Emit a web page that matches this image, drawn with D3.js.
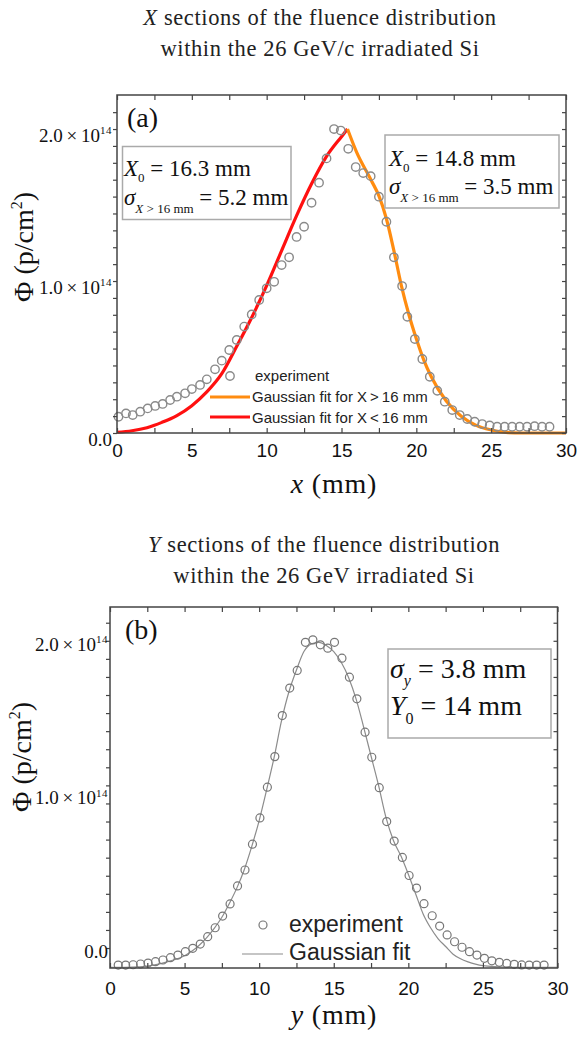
<!DOCTYPE html>
<html>
<head>
<meta charset="utf-8">
<script src="https://cdn.jsdelivr.net/npm/d3@7"></script>
<style>
  body { margin: 0; background: #fff; }
  svg { display: block; }
</style>
</head>
<body>
<svg id="chart" width="578" height="1039"></svg>
<script>
// all fluence values in units of 1e14 p/cm2, positions in mm

// panel (a) - X sections
var xaPoints = [0.1, 0.6, 1.05, 1.55, 2.05, 2.55, 3.05, 3.55, 4.0, 4.55, 5.0, 5.55, 6.0, 6.55, 7.0, 7.5, 8.0, 8.5, 9.0, 9.5,
  10.0, 10.5, 11.0, 11.5, 12.0, 12.5, 13.0, 13.5, 14.0, 14.5, 14.95, 15.45, 15.95, 16.45, 16.95, 17.5, 18.0, 18.5, 19.05, 19.4,
  19.9, 20.4, 20.9, 21.4, 21.9, 22.4, 22.9, 23.4, 23.9, 24.4, 24.9, 25.4, 25.9, 26.4, 26.9, 27.4, 27.9, 28.4, 28.9]
var vaPoints = [0.107, 0.129, 0.118, 0.14, 0.162, 0.178, 0.191, 0.217, 0.239, 0.261, 0.289, 0.316, 0.353, 0.419, 0.476, 0.546, 0.612, 0.70, 0.78, 0.875,
  0.952, 0.995, 1.105, 1.156, 1.29, 1.357, 1.515, 1.647, 1.807, 2.0, 1.99, 1.87, 1.75, 1.71, 1.69, 1.555, 1.39, 1.156, 0.967, 0.765,
  0.618, 0.487, 0.37, 0.278, 0.206, 0.151, 0.118, 0.092, 0.074, 0.059, 0.05, 0.041, 0.041, 0.041, 0.041, 0.041, 0.045, 0.041, 0.041]

// gaussian fit for X < 16 mm (red)
var xaRed = [0, 1, 2, 3, 4, 5, 6, 7, 8, 9, 10, 11, 12, 13, 14, 15, 15.4]
var vaRed = [0.005, 0.015, 0.035, 0.07, 0.115, 0.18, 0.27, 0.39, 0.57, 0.76, 0.97, 1.2, 1.43, 1.64, 1.82, 1.95, 2.0]

// gaussian fit for X > 16 mm (orange)
var xaOrange = [15.4, 16, 17, 17.5, 18, 18.5, 19, 19.5, 20, 20.5, 21, 22, 23, 24, 25, 26, 27, 28, 29, 30]
var vaOrange = [2.0, 1.85, 1.66, 1.56, 1.41, 1.2, 0.97, 0.78, 0.62, 0.48, 0.37, 0.21, 0.11, 0.05, 0.02, 0.004, 0, 0, 0, 0]

// panel (b) - Y sections
var xbPoints = [0.55, 1.05, 1.55, 2.05, 2.55, 3.05, 3.55, 4.05, 4.55, 5.05, 5.55, 6.05, 6.55, 7.05, 7.55, 8.05, 8.55, 9.05, 9.55, 10.05,
  10.55, 11.05, 11.55, 12.05, 12.55, 13.1, 13.6, 14.1, 14.6, 15.05, 15.55, 16.05, 16.55, 17.1, 17.55, 18.05, 18.55, 19.05, 19.6, 20.05,
  20.55, 21.05, 21.6, 22.1, 22.6, 23.1, 23.6, 24.1, 24.6, 25.1, 25.6, 26.1, 26.6, 27.1, 27.6, 28.1, 28.6, 29.1]
var vbPoints = [-0.111, -0.111, -0.109, -0.104, -0.098, -0.089, -0.078, -0.063, -0.046, -0.024, -0.002, 0.026, 0.074, 0.132, 0.208, 0.287, 0.404, 0.508, 0.676, 0.847,
  1.047, 1.246, 1.513, 1.692, 1.807, 1.99, 2.006, 1.974, 1.952, 1.99, 1.887, 1.763, 1.622, 1.405, 1.242, 1.044, 0.823, 0.696, 0.59, 0.472,
  0.39, 0.289, 0.21, 0.143, 0.085, 0.041, 0.005, -0.024, -0.046, -0.067, -0.083, -0.093, -0.1, -0.106, -0.11, -0.111, -0.111, -0.111]

var xbFit = [0, 1, 2, 3, 4, 5, 5.5, 6, 6.5, 7, 7.5, 8, 8.5, 9, 9.5, 10, 10.5, 11, 11.5, 12, 12.5, 13, 13.5, 14, 14.5, 15, 15.5, 16, 16.5, 17,
  17.5, 18, 18.5, 19, 19.5, 20, 20.5, 21, 21.5, 22, 22.5, 23, 23.5, 24, 24.5, 25, 26, 27, 28, 29, 30]
var vbFit = [-0.125, -0.125, -0.122, -0.11, -0.085, -0.05, -0.02, 0.02, 0.07, 0.13, 0.2, 0.29, 0.39, 0.51, 0.66, 0.83, 1.03, 1.24, 1.48, 1.67, 1.81, 1.93, 1.98, 1.99, 1.97, 1.93, 1.86, 1.76, 1.62, 1.44,
  1.25, 1.06, 0.85, 0.7, 0.6, 0.48, 0.35, 0.22, 0.13, 0.06, 0.01, -0.04, -0.07, -0.09, -0.105, -0.115, -0.122, -0.125, -0.125, -0.125, -0.125]

// tick labels
var xTickLabels = [0, 5, 10, 15, 20, 25, 30]
var yTickLabels = [0, 1, 2]

var serif = "'Liberation Serif', 'Times New Roman', serif"
var sans = "'Liberation Sans', Arial, sans-serif"
var axisColor = '#444'

var svg = d3.select('#chart')

// scales for the two panels
var xA = d3.scaleLinear().domain([0, 30]).range([117, 566])
var yA = d3.scaleLinear().domain([0, 2.224]).range([433, 95])
var xB = d3.scaleLinear().domain([0, 30]).range([110, 557.5])
var yB = d3.scaleLinear().domain([-0.13, 2.22]).range([968, 607])

function zip(xs, vs) {
  return xs.map(function(x, i) {
    return { x: x, v: vs[i] }
  })
}

function drawFrame(x, y, minorY, opts) {
  var left = x.range()[0]
  var right = x.range()[1]
  var bottom = y.range()[0]
  var top = y.range()[1]
  var xMinor = d3.range(0, 30.01, 2.5)

  var gb = svg.append('g')
    .attr('transform', 'translate(0,' + bottom + ')')
    .call(d3.axisBottom(x).tickValues(xMinor).tickSizeInner(-5).tickSizeOuter(0)
      .tickFormat(function(d) { return xTickLabels.indexOf(d) >= 0 ? d : '' }))
  gb.attr('font-family', sans).attr('font-size', 19)
  gb.selectAll('.tick text').attr('y', opts.xLabelY).attr('dy', 0).attr('fill', '#111')

  svg.append('g')
    .attr('transform', 'translate(0,' + top + ')')
    .call(d3.axisTop(x).tickValues(xMinor).tickSizeInner(-5).tickSizeOuter(0).tickFormat(''))

  svg.append('g')
    .attr('transform', 'translate(' + left + ',0)')
    .call(d3.axisLeft(y).tickValues(minorY).tickSizeInner(4).tickSizeOuter(0).tickFormat(''))

  svg.append('g')
    .attr('transform', 'translate(' + right + ',0)')
    .call(d3.axisRight(y).tickValues(minorY).tickSizeInner(-4).tickSizeOuter(0).tickFormat(''))

  // y labels like 2.0 x 10^14
  var gl = svg.append('g')
    .attr('transform', 'translate(' + left + ',0)')
    .call(d3.axisLeft(y).tickValues(yTickLabels).tickSize(0).tickPadding(opts.yPad)
      .tickFormat(function(d) { return d.toFixed(1) }))
  gl.select('.domain').remove()
  gl.attr('font-family', serif).attr('font-size', 19)
  gl.selectAll('.tick text')
    .attr('dy', opts.yDy)
    .attr('fill', '#111')
    .each(function(d) {
      if (d > 0) {
        var t = d3.select(this)
        t.append('tspan').text('\u2009\u00d7\u200910')
        t.append('tspan').attr('font-size', 11).attr('dy', '-0.7em').attr('letter-spacing', 0.5).text('14')
      }
    })

  svg.selectAll('.domain').remove()
  svg.selectAll('.tick line').attr('stroke', axisColor).attr('stroke-width', 1.2)

  svg.append('rect')
    .attr('x', left)
    .attr('y', top)
    .attr('width', right - left)
    .attr('height', bottom - top)
    .attr('fill', 'none')
    .attr('stroke', axisColor)
    .attr('stroke-width', 1.5)
}

function addTitle(cx, y1, lead, rest, line2) {
  var t = svg.append('text')
    .attr('x', cx)
    .attr('y', y1)
    .attr('text-anchor', 'middle')
    .attr('font-family', serif)
    .attr('font-size', 22.5)
    .attr('letter-spacing', 0.6)
    .attr('fill', '#222')
  t.append('tspan').attr('font-style', 'italic').text(lead)
  t.append('tspan').text(rest)

  svg.append('text')
    .attr('x', cx)
    .attr('y', y1 + 31)
    .attr('text-anchor', 'middle')
    .attr('font-family', serif)
    .attr('font-size', 22.5)
    .attr('letter-spacing', 0.6)
    .attr('fill', '#222')
    .text(line2)
}

function addAxisTitles(cx, by, letter, ly, lx) {
  var t = svg.append('text')
    .attr('x', cx)
    .attr('y', by)
    .attr('text-anchor', 'middle')
    .attr('font-family', serif)
    .attr('font-size', 28)
    .attr('letter-spacing', 0.8)
    .attr('fill', '#111')
  t.append('tspan').attr('font-style', 'italic').text(letter)
  t.append('tspan').text(' (mm)')

  var yt = svg.append('text')
    .attr('transform', 'translate(' + lx + ',' + ly + ') rotate(-90)')
    .attr('text-anchor', 'middle')
    .attr('font-family', serif)
    .attr('font-size', 28)
    .attr('fill', '#111')
  yt.append('tspan').text('\u03a6 (p/cm')
  yt.append('tspan').attr('font-size', 16).attr('dy', '-0.7em').text('2')
  yt.append('tspan').attr('dy', '0.4em').text(')')
}

// a line of "Sym_sub = value" text
function addFormula(x, y, size, sym, symItalic, sub, subSize, subDy, rest) {
  var t = svg.append('text')
    .attr('x', x)
    .attr('y', y)
    .attr('font-family', serif)
    .attr('font-size', size)
    .attr('fill', '#111')
  t.append('tspan').attr('font-style', symItalic ? 'italic' : null).text(sym)
  var s = t.append('tspan').attr('font-size', subSize).attr('dy', subDy)
  sub.forEach(function(part) {
    s.append('tspan').attr('font-style', part[1] ? 'italic' : null).text(part[0])
  })
  t.append('tspan').attr('dy', -subDy).text(rest)
}

function addBox(x0, y0, x1, y1) {
  svg.append('rect')
    .attr('x', x0)
    .attr('y', y0)
    .attr('width', x1 - x0)
    .attr('height', y1 - y0)
    .attr('fill', '#fff')
    .attr('stroke', '#aaa')
    .attr('stroke-width', 1.5)
}

// ---------- panel (a) ----------
addTitle(320, 25, 'X', ' sections of the fluence distribution', 'within the 26 GeV/c irradiated Si')

var lineA = d3.line()
  .x(function(d) { return xA(d.x) })
  .y(function(d) { return yA(d.v) })
  .curve(d3.curveMonotoneX)

svg.append('path')
  .datum(zip(xaRed, vaRed))
  .attr('d', lineA)
  .attr('fill', 'none')
  .attr('stroke', '#ff1010')
  .attr('stroke-width', 3.2)

svg.append('path')
  .datum(zip(xaOrange, vaOrange))
  .attr('d', lineA)
  .attr('fill', 'none')
  .attr('stroke', '#ff8c10')
  .attr('stroke-width', 3.2)

svg.append('g')
  .selectAll('circle')
  .data(zip(xaPoints, vaPoints))
  .enter()
  .append('circle')
  .attr('cx', function(d) { return xA(d.x) })
  .attr('cy', function(d) { return yA(d.v) })
  .attr('r', 4.2)
  .attr('fill', 'none')
  .attr('stroke', '#8a8a8a')
  .attr('stroke-width', 1.4)

drawFrame(xA, yA, d3.range(0, 20).map(function(k) { return k / 9 }), { xLabelY: 24, yPad: 5, yDy: '0.66em' })

svg.append('text')
  .attr('x', 127)
  .attr('y', 127)
  .attr('font-family', serif)
  .attr('font-size', 28)
  .attr('fill', '#111')
  .text('(a)')

addBox(122.5, 146.5, 291, 219.5)
addFormula(124, 176, 23, 'X', true, [['0', false]], 13, 6, ' = 16.3 mm')
addFormula(124, 205, 23, '\u03c3', true, [['X', true], [' > 16 mm', false]], 13, 8, ' = 5.2 mm')

addBox(385, 135, 559, 208)
addFormula(389, 166, 23, 'X', true, [['0', false]], 13, 6, ' = 14.8 mm')
addFormula(389, 194, 23, '\u03c3', true, [['X', true], [' > 16 mm', false]], 13, 8, ' = 3.5 mm')

// legend (a)
svg.append('circle').attr('cx', 230).attr('cy', 376).attr('r', 4.2)
  .attr('fill', 'none').attr('stroke', '#8a8a8a').attr('stroke-width', 1.4)
svg.append('line').attr('x1', 210).attr('x2', 250).attr('y1', 397).attr('y2', 397)
  .attr('stroke', '#ff8c10').attr('stroke-width', 3.2)
svg.append('line').attr('x1', 210).attr('x2', 250).attr('y1', 417).attr('y2', 417)
  .attr('stroke', '#ff1010').attr('stroke-width', 3.2)

var legendA = [['experiment', 255, 381], ['Gaussian fit for X\u2009>\u200916 mm', 252, 402], ['Gaussian fit for X\u2009<\u200916 mm', 252, 423]]
legendA.forEach(function(l) {
  svg.append('text')
    .attr('x', l[1])
    .attr('y', l[2])
    .attr('font-family', sans)
    .attr('font-size', 15)
    .attr('fill', '#222')
    .text(l[0])
})

addAxisTitles(334, 493, 'x', 247, 33)

// ---------- panel (b) ----------
addTitle(324, 552, 'Y', ' sections of the fluence distribution', 'within the 26 GeV irradiated Si')

var lineB = d3.line()
  .x(function(d) { return xB(d.x) })
  .y(function(d) { return yB(d.v) })
  .curve(d3.curveMonotoneX)

svg.append('path')
  .datum(zip(xbFit, vbFit))
  .attr('d', lineB)
  .attr('fill', 'none')
  .attr('stroke', '#8c8c8c')
  .attr('stroke-width', 1.2)

svg.append('g')
  .selectAll('circle')
  .data(zip(xbPoints, vbPoints))
  .enter()
  .append('circle')
  .attr('cx', function(d) { return xB(d.x) })
  .attr('cy', function(d) { return yB(d.v) })
  .attr('r', 4)
  .attr('fill', 'none')
  .attr('stroke', '#777')
  .attr('stroke-width', 1.2)

drawFrame(xB, yB, d3.range(0, 19).map(function(k) { return k * 2 / 17 }), { xLabelY: 27, yPad: 2, yDy: '0.5em' })

svg.append('text')
  .attr('x', 125)
  .attr('y', 639)
  .attr('font-family', serif)
  .attr('font-size', 28)
  .attr('fill', '#111')
  .text('(b)')

addBox(388, 649, 551, 738)
addFormula(390, 678, 28, '\u03c3', true, [['y', true]], 16, 8, ' = 3.8 mm')
addFormula(390, 715, 28, 'Y', true, [['0', false]], 16, 9, ' = 14 mm')

// legend (b)
svg.append('circle').attr('cx', 263).attr('cy', 925).attr('r', 4)
  .attr('fill', 'none').attr('stroke', '#777').attr('stroke-width', 1.2)
svg.append('line').attr('x1', 242).attr('x2', 283).attr('y1', 954).attr('y2', 954)
  .attr('stroke', '#8c8c8c').attr('stroke-width', 1.2)
svg.append('text').attr('x', 289).attr('y', 932)
  .attr('font-family', sans).attr('font-size', 23).attr('fill', '#222').text('experiment')
svg.append('text').attr('x', 289).attr('y', 960)
  .attr('font-family', sans).attr('font-size', 23).attr('fill', '#222').text('Gaussian fit')

addAxisTitles(334, 1024, 'y', 757, 31)
</script>
</body>
</html>
